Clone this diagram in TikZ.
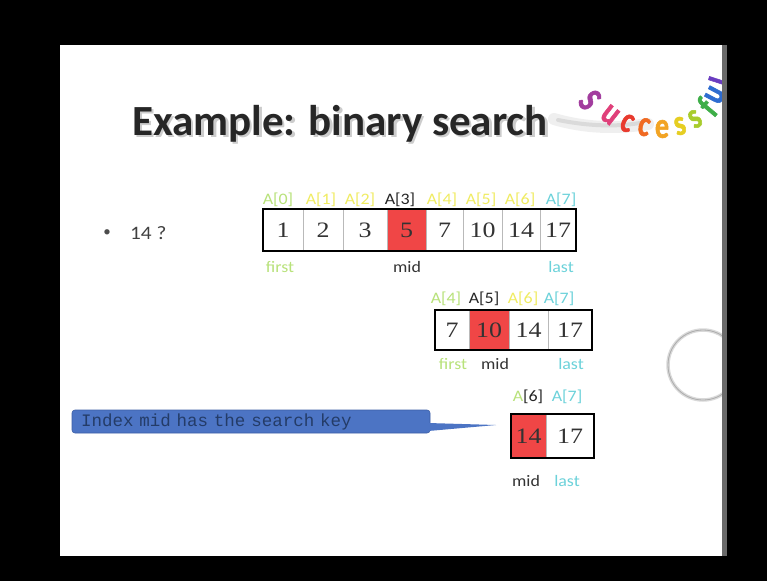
\documentclass[tikz,border=0pt]{standalone}
\usepackage{fontspec}
\setmainfont{Liberation Serif}
\newfontfamily\calfont{Carlito}
\newfontfamily\widecalfont[FakeStretch=1.12]{Carlito}
\newfontfamily\narrowcalfont[FakeStretch=0.78,FakeBold=1.5]{Carlito}
\newfontfamily\cellfont[FakeStretch=1.18]{Liberation Serif}
\newfontfamily\codefont{Liberation Mono}

\definecolor{lgreen}{HTML}{B8E27A}
\definecolor{lyellow}{HTML}{F0EC62}
\definecolor{lcyan}{HTML}{6CD2DA}
\definecolor{cellred}{HTML}{F04646}
\definecolor{calloutblue}{HTML}{4C74C4}
\definecolor{calloutedge}{HTML}{3C5EA6}
\definecolor{callouttext}{HTML}{243C68}
\definecolor{inktext}{HTML}{333333}
\definecolor{stripgray}{HTML}{6A6A6A}
% rainbow letters
\definecolor{rbA}{HTML}{A23C9E}
\definecolor{rbB}{HTML}{E0407A}
\definecolor{rbC}{HTML}{E83A2E}
\definecolor{rbD}{HTML}{F06A22}
\definecolor{rbE}{HTML}{F2A424}
\definecolor{rbF}{HTML}{E6CE22}
\definecolor{rbG}{HTML}{A8CC2C}
\definecolor{rbH}{HTML}{3EAE48}
\definecolor{rbI}{HTML}{2E6CD0}
\definecolor{rbJ}{HTML}{6A3CC0}

\begin{document}
\begin{tikzpicture}[x=1pt,y=-1pt,
  cell/.style={rectangle, draw=gray!55, line width=0.6pt, inner sep=0pt,
    font=\cellfont\fontsize{22}{22}\selectfont, text=inktext},
  hot/.style={fill=cellred},
  frame/.style={draw=black, line width=2pt},
  idx/.style={font=\widecalfont\fontsize{16}{16}\selectfont, inner sep=0pt},
  tag/.style={font=\widecalfont\fontsize{16}{16}\selectfont, inner sep=0pt},
  titletext/.style={font=\calfont\bfseries\fontsize{43}{43}\selectfont, inner sep=0pt, anchor=base west},
  wordart/.style={font=\narrowcalfont\bfseries\fontsize{36}{36}\selectfont, inner sep=0pt},
]
\useasboundingbox (0,0) rectangle (767,581);

% screen and slide
\fill[black] (0,0) rectangle (767,581);
\fill[white] (60,45) rectangle (722,556);

\begin{scope}
\clip (60,45) rectangle (722,556);

% title with its drop shadow
\node[titletext, text=gray!40] (titleshadow) at (134.5,137.5) {Example: binary search};
\node[titletext, text=black!85] (title) at (132,135) {Example: binary search};

% grey swoosh behind the word art
\draw[gray!15, line width=12pt, line cap=round, opacity=0.8]
  (554,119) .. controls (585,128) and (615,129) .. (648,124);
\draw[gray!35, line width=4pt, line cap=round, opacity=0.7]
  (558,120) .. controls (588,126) and (615,127) .. (640,123);

% rainbow word art bent along an arc
\foreach \lx/\ly/\la/\lc/\lt [count=\i] in {
  590/100/-52/rbA/S, 610/115/-38/rbB/u, 627/123/-25/rbC/c, 644/127/-12/rbD/c,
  662/129/0/rbE/e, 680/126/14/rbF/s, 695/119/30/rbG/s, 707/107/50/rbH/f,
  715/95/62/rbI/u, 721/82/72/rbJ/l}
  \node[wordart, text=\lc, rotate=\la] (suc\i) at (\lx,\ly) {\lt};

% bullet
\node[font=\calfont\fontsize{15}{15}\selectfont, text=black!70] (bullet) at (107,233) {•};
\node[font=\widecalfont\fontsize{19}{19}\selectfont, text=black!75, anchor=west, inner sep=0pt] (query) at (130,233) {14 ?};

% ---- first array: A[0..7]
\begin{scope}[every node/.append style={minimum height=42pt}]
\node[cell, minimum width=40pt] (a0) at (283,230) {1};
\node[cell, minimum width=40pt] (a1) at (323,230) {2};
\node[cell, minimum width=44pt] (a2) at (365,230) {3};
\node[cell, hot, minimum width=39pt] (a3) at (406.5,230) {5};
\node[cell, minimum width=37pt] (a4) at (444.5,230) {7};
\node[cell, minimum width=39pt] (a5) at (482.5,230) {10};
\node[cell, minimum width=38pt] (a6) at (521,230) {14};
\node[cell, minimum width=36pt] (a7) at (558,230) {17};
\end{scope}
\draw[frame] (a0.north west) rectangle (a7.south east);

\node[idx, text=lgreen] (ia0) at (278,200) {A[0]};
\node[idx, text=lyellow] (ia1) at (321,200) {A[1]};
\node[idx, text=lyellow] (ia2) at (360,200) {A[2]};
\node[idx, text=black!85] (ia3) at (400,200) {A[3]};
\node[idx, text=lyellow] (ia4) at (442,200) {A[4]};
\node[idx, text=lyellow] (ia5) at (481,200) {A[5]};
\node[idx, text=lyellow] (ia6) at (520,200) {A[6]};
\node[idx, text=lcyan] (ia7) at (561,200) {A[7]};

\node[tag, text=lgreen] (first1) at (280,267) {first};
\node[tag, text=black!80] (mid1) at (407,267) {mid};
\node[tag, text=lcyan] (last1) at (561,267) {last};

% ---- second array: A[4..7]
\begin{scope}[every node/.append style={minimum height=40pt}]
\node[cell, minimum width=34pt] (b0) at (452,330) {7};
\node[cell, hot, minimum width=40pt] (b1) at (489,330) {10};
\node[cell, minimum width=39pt] (b2) at (528.5,330) {14};
\node[cell, minimum width=44pt] (b3) at (570,330) {17};
\end{scope}
\draw[frame] (b0.north west) rectangle (b3.south east);

\node[idx, text=lgreen] (ib0) at (446,299) {A[4]};
\node[idx, text=black!85] (ib1) at (484,299) {A[5]};
\node[idx, text=lyellow] (ib2) at (523,299) {A[6]};
\node[idx, text=lcyan] (ib3) at (559,299) {A[7]};

\node[tag, text=lgreen] (first2) at (453,364) {first};
\node[tag, text=black!80] (mid2) at (495,364) {mid};
\node[tag, text=lcyan] (last2) at (571,364) {last};

% ---- third array: A[6..7]
\begin{scope}[every node/.append style={minimum height=44pt}]
\node[cell, hot, minimum width=35pt] (c0) at (528.5,436) {14};
\node[cell, minimum width=48pt] (c1) at (570,436) {17};
\end{scope}
\draw[frame] (c0.north west) rectangle (c1.south east);

\node[idx, text=black!85] (ic0) at (528,397) {{\color{lgreen}A}[6]};
\node[idx, text=lcyan] (ic1) at (567,397) {A[7]};

\node[tag, text=black!80] (mid3) at (526,481) {mid};
\node[tag, text=lcyan] (last3) at (567,481) {last};

% ---- callout
\node[rectangle, rounded corners=3pt, fill=calloutblue, draw=calloutedge, line width=0.6pt,
  minimum height=23pt, text width=340pt, inner xsep=9pt, inner ysep=0pt, align=left,
  font=\codefont\fontsize{17.5}{17.5}\selectfont, text=callouttext]
  (note) at (251,421.5) {Index mid has the search key};
\coordinate (tip) at (496,425);
\fill[calloutblue] ([xshift=-2pt,yshift=-1.5pt]note.east) -- (tip) -- ([xshift=-2pt,yshift=-9.5pt]note.east) -- cycle;

% pointer ring at the slide edge
\draw[gray!30, line width=3.5pt] (703,365) circle[radius=35pt];
\draw[gray!65, line width=0.8pt] (703,365) circle[radius=35pt];
\end{scope}

% right edge strip of the slide
\fill[stripgray] (722,45) rectangle (727,556);
\end{tikzpicture}
\end{document}
